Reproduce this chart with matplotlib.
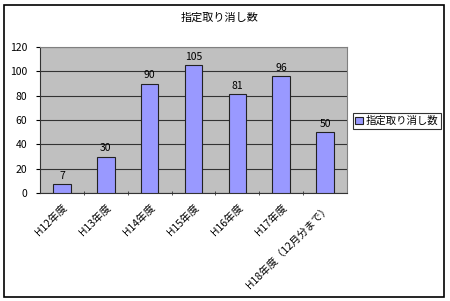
import matplotlib
matplotlib.use("Agg")
import matplotlib.pyplot as plt
from matplotlib.patches import Rectangle

plt.rcParams['font.family'] = ['Noto Sans CJK JP', 'DejaVu Sans']

categories = ["H12年度", "H13年度", "H14年度", "H15年度", "H16年度", "H17年度", "H18年度（12月分まで）"]
values = [7, 30, 90, 105, 81, 96, 50]
series_name = "指定取り消し数"
title = "指定取り消し数"
yticks = [0, 20, 40, 60, 80, 100, 120]

W, H = 450, 301
fig = plt.figure(figsize=(W/100, H/100), dpi=100)
fig.patch.set_facecolor('white')
# outer border
fig.add_artist(Rectangle((4/W, 4/H), 440/W, 292/H, transform=fig.transFigure,
                         fill=False, edgecolor='black', linewidth=1.2))

left, right, top, bottom = 40, 347, 47, 193
ax = fig.add_axes([left/W, 1-bottom/H, (right-left)/W, (bottom-top)/H])
ax.set_facecolor('#C0C0C0')
x = list(range(len(categories)))
bars = ax.bar(x, values, width=0.4, color='#9999FF', edgecolor='#222222', linewidth=0.8,
              label=series_name, zorder=3)
ax.set_xlim(-0.5, len(categories)-0.5)
ax.set_ylim(0, 120)
ax.set_yticks(yticks)
ax.set_yticklabels([str(v) for v in yticks], fontsize=7.5)
ax.yaxis.grid(True, color='#333333', linewidth=0.8, zorder=1)
ax.set_axisbelow(True)
for s in ['top', 'right']:
    ax.spines[s].set_color('#808080')
ax.spines['left'].set_color('#333333')
ax.spines['bottom'].set_color('#333333')
ax.tick_params(axis='y', length=3, pad=6, colors='black')
ax.set_xticks([i + 0.5 for i in x[:-1]], minor=True)
ax.tick_params(axis='x', which='minor', length=3, direction='inout', color='#333333')
ax.set_xticks(x)
ax.set_xticklabels(categories, rotation=45, ha='right', rotation_mode='anchor', fontsize=7.5)
ax.tick_params(axis='x', which='major', length=0, pad=7)
for xi, v in zip(x, values):
    ax.text(xi, v + 2.5, str(v), ha='center', va='bottom', fontsize=7.5)

fig.text(220/W, 1-18/H, title, ha='center', va='center', fontsize=8)
leg = fig.legend(handles=[bars], labels=[series_name], loc='center',
                 bbox_to_anchor=(397/W, 1-121/H), fontsize=7.5, frameon=True,
                 fancybox=False, edgecolor='black', handlelength=0.7, handleheight=0.7,
                 handletextpad=0.3, borderpad=0.25, borderaxespad=0)
leg.get_frame().set_linewidth(0.8)

fig.savefig('out.png', dpi=100)
